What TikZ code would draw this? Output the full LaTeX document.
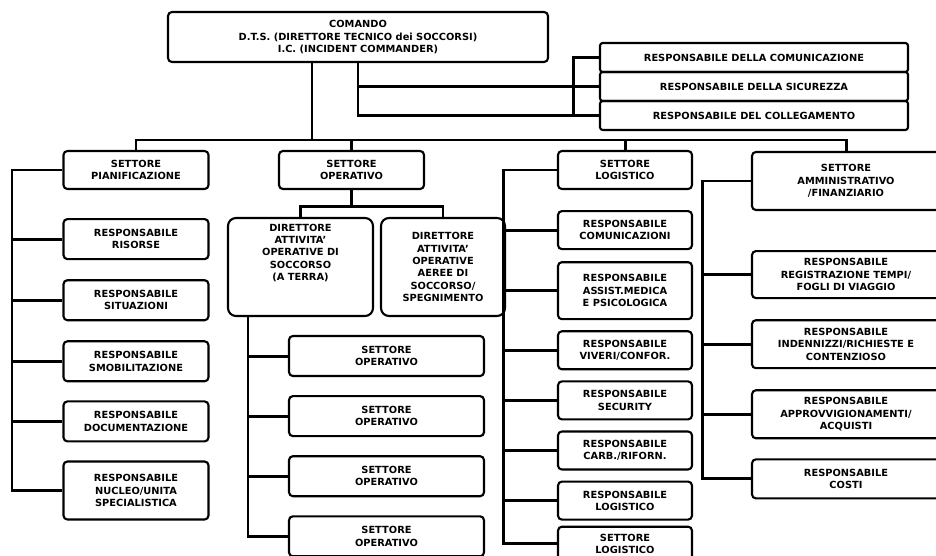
\documentclass[tikz,border=0pt]{standalone}
\usepackage{fontspec}
\setmainfont{DejaVu Sans}
\usetikzlibrary{positioning}

\begin{document}
\begin{tikzpicture}[
  x=0.02cm, y=0.02cm,
  unit/.style={draw, rounded corners=2.2pt, line width=1.2pt, align=center,
               font=\fontsize{5.6}{7}\selectfont\bfseries, inner sep=1pt},
  pbox/.style={unit, minimum width=2.9cm, minimum height=0.8cm},
  obox/.style={unit, minimum width=3.9cm, minimum height=0.8cm},
  lbox/.style={unit, minimum width=2.68cm, minimum height=0.76cm},
  abox/.style={unit, minimum width=3.76cm, minimum height=0.96cm},
  dbox/.style={unit, rounded corners=4.5pt, minimum height=1.96cm},
  staff/.style={unit, rounded corners=1.5pt, minimum width=6.16cm, minimum height=0.58cm},
  link/.style={line width=1.7pt},
]

% === Canvas ===
\useasboundingbox (0,0) rectangle (936,-555);
\clip (0,0) rectangle (936,-555);
\fill[white] (0,0) rectangle (936,-555);

% === Command and staff ===
\node[unit, minimum width=7.6cm, minimum height=1.0cm] (cmd) at (358,-37)
  {COMANDO\\D.T.S. (DIRETTORE TECNICO dei SOCCORSI)\\I.C. (INCIDENT COMMANDER)};

\node[staff] (rcom) at (754,-57.5) {RESPONSABILE DELLA COMUNICAZIONE};
\node[staff, below=-1.2pt of rcom] (rsic) {RESPONSABILE DELLA SICUREZZA};
\node[staff, below=-1.2pt of rsic] (rcol) {RESPONSABILE DEL COLLEGAMENTO};

% === Settore pianificazione ===
\node[pbox, minimum height=0.76cm] (plan) at (136,-170) {SETTORE\\PIANIFICAZIONE};
\node[pbox, below=0.56cm of plan] (ris) {RESPONSABILE\\RISORSE};
\node[pbox, below=0.38cm of ris] (sit) {RESPONSABILE\\SITUAZIONI};
\node[pbox, below=0.38cm of sit] (smob) {RESPONSABILE\\SMOBILITAZIONE};
\node[pbox, below=0.36cm of smob] (doc) {RESPONSABILE\\DOCUMENTAZIONE};
\node[pbox, below=0.36cm of doc, minimum height=1.16cm] (nuc)
  {RESPONSABILE\\NUCLEO/UNITA\\SPECIALISTICA};

% === Settore operativo ===
\node[pbox, minimum height=0.76cm] (oper) at (351.5,-170) {SETTORE\\OPERATIVO};

\node[dbox, minimum width=2.9cm] (dirT) at (300.5,-267)
  {DIRETTORE\\ATTIVITA'\\OPERATIVE DI\\SOCCORSO\\(A TERRA)\\[10pt]};
\node[dbox, minimum width=2.48cm] (dirA) at (443,-267)
  {DIRETTORE\\ATTIVITA'\\OPERATIVE\\AEREE DI\\SOCCORSO/\\SPEGNIMENTO};

\node[obox] (sop1) at (386.5,-356) {SETTORE\\OPERATIVO};
\node[obox, below=0.36cm of sop1] (sop2) {SETTORE\\OPERATIVO};
\node[obox, below=0.36cm of sop2] (sop3) {SETTORE\\OPERATIVO};
\node[obox, below=0.36cm of sop3] (sop4) {SETTORE\\OPERATIVO};

% === Settore logistico ===
\node[lbox] (log) at (625,-170) {SETTORE\\LOGISTICO};
\node[lbox, below=0.4cm of log] (lcom) {RESPONSABILE\\COMUNICAZIONI};
\node[lbox, below=0.22cm of lcom, minimum height=1.14cm] (lmed)
  {RESPONSABILE\\ASSIST.MEDICA\\E PSICOLOGICA};
\node[lbox, below=0.2cm of lmed] (lviv) {RESPONSABILE\\VIVERI/CONFOR.};
\node[lbox, below=0.2cm of lviv] (lsec) {RESPONSABILE\\SECURITY};
\node[lbox, below=0.2cm of lsec] (lcarb) {RESPONSABILE\\CARB./RIFORN.};
\node[lbox, below=0.2cm of lcarb] (lres) {RESPONSABILE\\LOGISTICO};
\node[lbox, below=0.1cm of lres, minimum height=0.68cm] (lset) {SETTORE\\LOGISTICO};

% === Settore amministrativo ===
\node[abox, minimum height=1.16cm] (amm) at (846,-181)
  {SETTORE\\AMMINISTRATIVO\\/FINANZIARIO};
\node[abox, below=0.78cm of amm, minimum height=0.94cm] (areg)
  {RESPONSABILE\\REGISTRAZIONE TEMPI/\\FOGLI DI VIAGGIO};
\node[abox, below=0.4cm of areg] (aind)
  {RESPONSABILE\\INDENNIZZI/RICHIESTE E\\CONTENZIOSO};
\node[abox, below=0.4cm of aind] (aapp)
  {RESPONSABILE\\APPROVVIGIONAMENTI/\\ACQUISTI};
\node[abox, below=0.38cm of aapp, minimum height=0.78cm] (acos) {RESPONSABILE\\COSTI};

% === Connectors ===
% staff
\draw[link] (cmd.south) |- (rcol.west);
\draw[link] (cmd.south |- rsic.west) -- (rsic.west);
\coordinate (sbrk) at (573,-58);
\draw[link] (rcom.west) -- (rcom.west -| sbrk) -- (rcol.west -| sbrk);

% main bus
\coordinate (bus) at (312,-140);
\draw[link] (cmd.south -| bus) -- (bus);
\draw[link] (plan.north) |- (bus) -| (amm.north);
\draw[link] (oper.north) -- (oper.north |- bus);
\draw[link] (log.north) -- (log.north |- bus);

% pianificazione
\coordinate (pspine) at (12,-170);
\draw[link] (plan.west) -- (plan.west -| pspine) -- (nuc.west -| pspine) -- (nuc.west);
\foreach \n in {ris,sit,smob,doc}
  \draw[link] (\n.west) -- (\n.west -| pspine);

% operativo
\draw[link] (oper.south) -- ++(0,-16) coordinate (ofork);
\draw[link] (dirT.north) |- (ofork) -| (dirA.north);
\coordinate (ospine) at (248,-316);
\draw[link] (dirT.south -| ospine) -- (sop4.west -| ospine) -- (sop4.west);
\foreach \n in {sop1,sop2,sop3}
  \draw[link] (\n.west) -- (\n.west -| ospine);

% logistico
\coordinate (lspine) at (503,-170);
\draw[link] (log.west) -- (log.west -| lspine) -- (lset.west -| lspine) -- (lset.west);
\foreach \n in {lcom,lmed,lviv,lsec,lcarb,lres}
  \draw[link] (\n.west) -- (\n.west -| lspine);

% amministrativo
\coordinate (aspine) at (702,-181);
\draw[link] (amm.west) -- (amm.west -| aspine) -- (acos.west -| aspine) -- (acos.west);
\foreach \n in {areg,aind,aapp}
  \draw[link] (\n.west) -- (\n.west -| aspine);

\end{tikzpicture}
\end{document}
